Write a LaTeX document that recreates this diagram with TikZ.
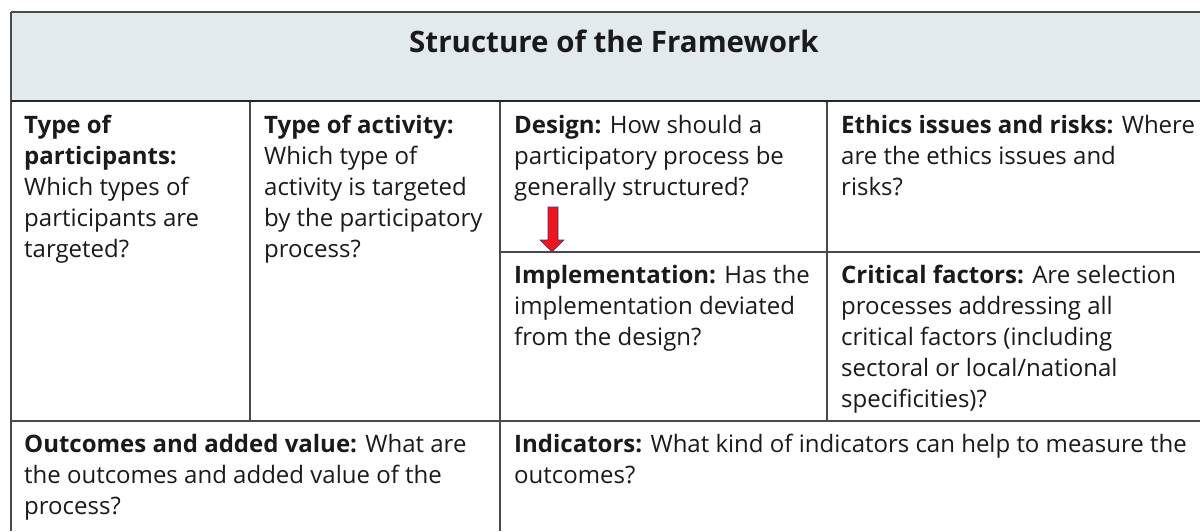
\documentclass[tikz,border=0pt]{standalone}
\usepackage{fontspec}
\IfFontExistsTF{Open Sans Bold}
  {\setmainfont{Open Sans}[BoldFont={Open Sans Bold}]}
  {\setmainfont{Noto Sans}[AutoFakeBold=4.2]}
\definecolor{hdr}{HTML}{E3EAEE}
\definecolor{rulecol}{HTML}{4A4A4A}
\definecolor{txt}{HTML}{1A1A1A}
\definecolor{arrowred}{HTML}{F0141E}
\definecolor{arrowblue}{HTML}{2A3A8C}
\begin{document}
\begin{tikzpicture}[x=1pt,y=-1pt,
  cell/.style={anchor=base west, inner sep=0pt, align=left, text=txt,
    font=\fontsize{24}{31}\selectfont},
  gridline/.style={draw=rulecol, line width=1.5pt},
  headline/.style={draw=black!85, line width=2.5pt}]
\useasboundingbox (0,0) rectangle (1200,531);
\fill[white] (0,0) rectangle (1200,531);
\fill[hdr] (11,12) rectangle (1200,101);
% grid
\draw[gridline] (11,12) -- (1200,12);
\draw[gridline] (11,12) -- (11,531);
\draw[gridline] (250,101) -- (250,421);
\draw[gridline] (500,101) -- (500,531);
\draw[gridline] (827,101) -- (827,421);
\draw[gridline] (500,252) -- (1200,252);
\draw[gridline] (11,421) -- (1200,421);
\draw[headline] (11,101) -- (1200,101);
% title (anchored at baseline)
\node[anchor=base, inner sep=0pt, text=txt, font=\fontsize{29.5}{34}\selectfont\bfseries] (title) at (614,52) {Structure of the Framework};
% cells (anchored at the baseline of their last line)
\node[cell] (part) at (24,257) {{\bfseries Type of}\\{\bfseries participants:}\\Which types of\\participants are\\targeted?};
\node[cell] (act) at (264,257) {{\bfseries Type of activity:}\\Which type of\\activity is targeted\\by the participatory\\process?};
\node[cell] (design) at (514,195) {{\bfseries Design:} How should a\\participatory process be\\generally structured?};
\node[cell] (ethics) at (841,195) {{\bfseries Ethics issues and risks:} Where\\are the ethics issues and\\risks?};
\node[cell] (impl) at (514,345) {{\bfseries Implementation:} Has the\\implementation deviated\\from the design?};
\node[cell] (crit) at (841,407) {{\bfseries Critical factors:} Are selection\\processes addressing all\\critical factors (including\\sectoral or local/national\\specificities)?};
\node[cell] (outc) at (24,514) {{\bfseries Outcomes and added value:} What are\\the outcomes and added value of the\\process?};
\node[cell] (ind) at (514,483) {{\bfseries Indicators:} What kind of indicators can help to measure the\\outcomes?};
% red block arrow
\filldraw[fill=arrowred, draw=arrowblue, line width=0.6pt]
  (548,207) -- (558,207) -- (558,240) -- (564,240) -- (552,252) -- (540,240) -- (548,240) -- cycle;
\end{tikzpicture}
\end{document}
